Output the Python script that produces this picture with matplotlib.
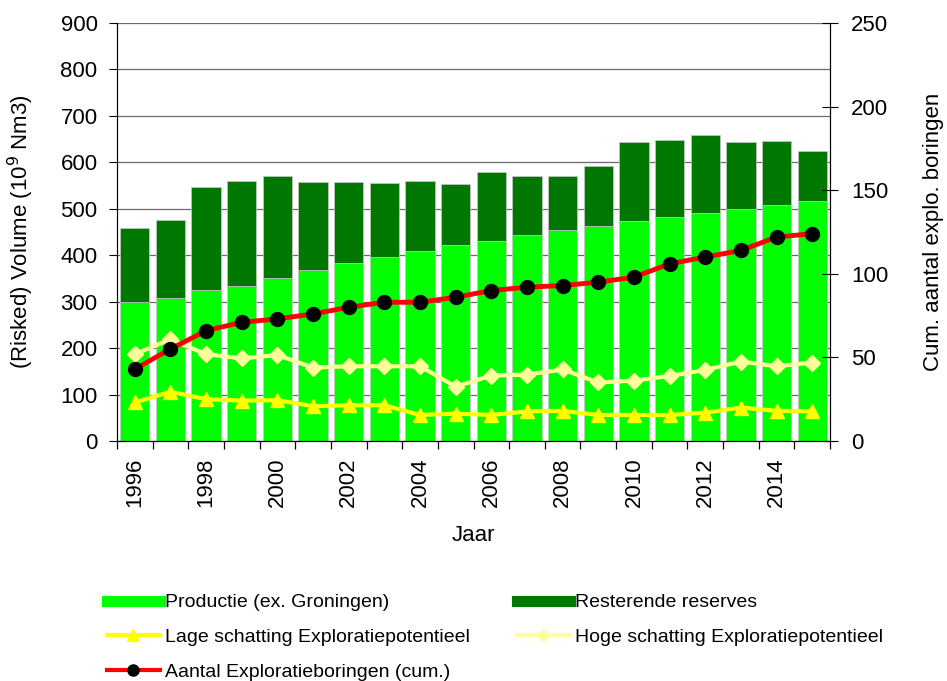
import numpy as np
import matplotlib.pyplot as plt
from matplotlib.lines import Line2D

plt.rcParams['font.family'] = ['Liberation Sans', 'DejaVu Sans']

years = list(range(1996, 2016))
productie = [300, 309, 325, 334, 352, 368, 383, 397, 410, 421,
             431, 443, 454, 463, 474, 482, 491, 499, 508, 516]
totaal = [458, 476, 547, 560, 570, 557, 557, 556, 559, 554,
          580, 571, 570, 593, 643, 649, 658, 644, 647, 624]
resterend = [t - p for t, p in zip(totaal, productie)]
lage = [83, 106, 90, 87, 88, 75, 77, 77, 56, 59,
        56, 64, 65, 56, 56, 56, 61, 72, 65, 64]
hoge = [187, 219, 187, 178, 185, 158, 161, 161, 161, 117,
        141, 143, 154, 126, 130, 140, 153, 171, 161, 169]
boringen = [43, 55, 66, 71, 73, 76, 80, 83, 83, 86,
            90, 92, 93, 95, 98, 106, 110, 114, 122, 124]

c_prod = '#00ff00'
c_rest = '#007800'
c_lage = '#ffff00'
c_hoge = '#ffff99'
c_bor = '#ff0000'
fs = 16

fig = plt.figure(figsize=(9.47, 6.81), dpi=100)
ax = fig.add_axes([0.1235, 0.3524, 0.753, 0.6138])
x = np.arange(len(years))

ax.bar(x, productie, width=0.82, color=c_prod, edgecolor='#c8c8c8', linewidth=0.5, zorder=2)
ax.bar(x, resterend, bottom=productie, width=0.82, color=c_rest, edgecolor='#c8c8c8',
       linewidth=0.5, zorder=2)
ax.plot(x, hoge, color=c_hoge, lw=3, marker='D', ms=8, zorder=3)
ax.plot(x, lage, color=c_lage, lw=3, marker='^', ms=10, zorder=3)

ax.set_xlim(-0.5, len(years) - 0.5)
ax.set_ylim(0, 900)
ax.set_yticks(range(0, 901, 100))
ax.yaxis.grid(True, color='#6a6a6a', lw=0.9, zorder=0)
ax.set_axisbelow(True)
ax.set_xticks(x[::2])
ax.set_xticklabels([str(y) for y in years[::2]], rotation=90)
ax.set_xticks(np.arange(-0.5, len(years), 1), minor=True)
ax.tick_params(axis='x', which='major', length=0, pad=12, labelsize=fs)
ax.tick_params(axis='x', which='minor', length=6, width=0.9)
ax.tick_params(axis='y', labelsize=fs, length=6, pad=8)
ax.spines['top'].set_visible(False)
ax.set_xlabel('Jaar', fontsize=fs)
ax.xaxis.set_label_coords(0.5, -0.2)
ax.set_ylabel('(Risked) Volume (10$^{9}$ Nm3)', fontsize=fs)
ax.yaxis.set_label_coords(-0.114, 0.5)

ax2 = ax.twinx()
ax2.plot(x, boringen, color=c_bor, lw=3.5, marker='o', ms=10,
         markerfacecolor='black', markeredgecolor='black', zorder=4)
ax2.set_ylim(0, 250)
ax2.set_yticks(range(0, 251, 50))
ax2.tick_params(axis='y', labelsize=fs, direction='inout', length=12, pad=9)
ax2.spines['top'].set_visible(False)
ax2.set_ylabel('Cum. aantal explo. boringen', fontsize=fs)
ax2.yaxis.set_label_coords(1.131, 0.5)

col1 = [
    Line2D([], [], color=c_prod, lw=8),
    Line2D([], [], color=c_lage, lw=3, marker='^', ms=9),
    Line2D([], [], color=c_bor, lw=3, marker='o', ms=8, mfc='black', mec='black'),
]
col2 = [
    Line2D([], [], color=c_rest, lw=8),
    Line2D([], [], color=c_hoge, lw=3, marker='D', ms=6),
]
lab1 = ['Productie (ex. Groningen)', 'Lage schatting Exploratiepotentieel',
        'Aantal Exploratieboringen (cum.)']
lab2 = ['Resterende reserves', 'Hoge schatting Exploratiepotentieel']
kw = dict(loc='upper left', frameon=False, fontsize=14, handlelength=2.7,
          handletextpad=0.3, labelspacing=0.88, borderaxespad=0, borderpad=0)
fig.legend(col1, lab1, bbox_to_anchor=(107 / 947, 0.128), **kw)
fig.legend(col2, lab2, bbox_to_anchor=(517 / 947, 0.128), **kw)

fig.savefig('out.png', dpi=100)
